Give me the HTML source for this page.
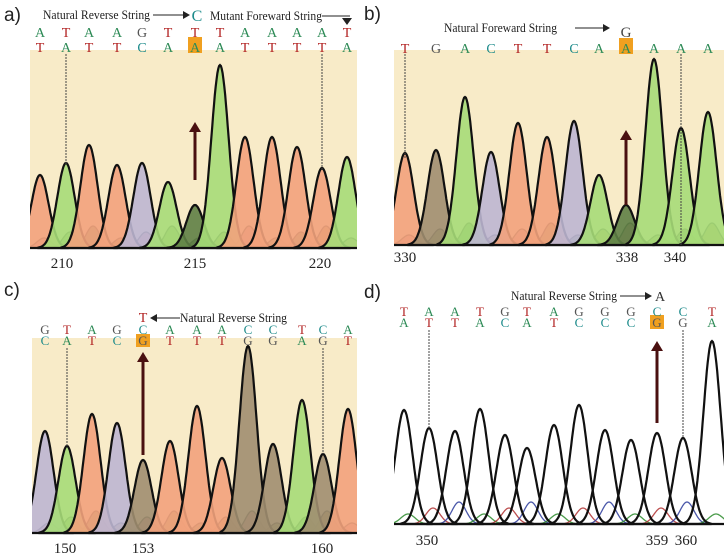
<!DOCTYPE html>
<html><head><meta charset="utf-8">
<style>
html,body{margin:0;padding:0;background:#fff;}
svg{display:block;font-family:"Liberation Serif",serif;}
</style></head>
<body>
<svg id="fig" width="724" height="556" viewBox="0 0 724 556" xmlns="http://www.w3.org/2000/svg"></svg>
<script>
// Panel a data
const aPos = [40,66,89,117,142,168,195,220,245,272,297,322,347];
const aHeights = [73,85,103,83,85,66,43,183,111,111,101,80,91];
const aColors = ["o","g","o","o","p","g","d","g","o","o","o","o","g"];
const aTop = ["A","T","A","A","G","T","T","T","A","A","A","A","T"];
const aBot = ["T","A","T","T","C","A","A","A","T","T","T","T","A"];
const aTicks = ["210","215","220"];
// Panel b data
const bPos = [405,436,465,491,518,547,574,599,626,654,681,708];
const bHeights = [92,95,148,93,122,108,124,70,40,186,117,133];
const bColors = ["o","b","g","p","o","o","p","g","d","g","g","g"];
const bBases = ["T","G","A","C","T","T","C","A","A","A","A","A"];
const bTicks = ["330","338","340"];
// Panel c data
const cPos = [45,67,92,117,143,170,197,222,248,273,302,323,348];
const cHeights = [102,87,119,110,73,92,127,75,187,89,133,79,124];
const cColors = ["p","g","o","p","b","o","o","o","b","b","g","b","o"];
const cTop = ["G","T","A","G","C","A","A","A","C","C","T","C","A"];
const cBot = ["C","A","T","C","G","T","T","T","G","G","A","G","T"];
const cTicks = ["150","153","160"];
// Panel d data
const dPos = [404,429,455,480,505,527,554,579,605,631,657,683,712];
const dHeights = [114,96,93,115,89,76,99,119,94,84,91,86,183];
const dColors = ["g","r","r","g","k","k","r","k","k","k","k","k","g"];
const dTop = ["T","A","A","T","G","T","A","G","G","G","C","C","T"];
const dBot = ["A","T","T","A","C","A","T","C","C","C","G","G","A"];
const dTicks = ["350","359","360"];

const NS="http://www.w3.org/2000/svg";
const svg=document.getElementById('fig');
const fills={o:"#f2a27c",g:"#a6dc78",p:"#bdb6d2",b:"#a08e70",d:"#5e7f45",r:"none",k:"none"};
const minorFills=["#c87a8a","#8a9a5a","#6a8a5a","#b08a50"];
const baseCol={A:"#2e8b57",T:"#b22222",G:"#555",C:"#1b8a8a"};
function el(tag,attrs,parent){const e=document.createElementNS(NS,tag);for(const k in attrs)e.setAttribute(k,attrs[k]);(parent||svg).appendChild(e);return e;}
function txt(x,y,s,size,fill,anchor,name,parent){const t=el('text',{x:x,y:y,'font-size':size,fill:fill,'text-anchor':anchor||'middle'},parent);t.textContent=s;return t;}
function peakPath(cx,h,base,sig){let d=`M${cx-sig*3.2},${base}`;for(let i=-32;i<=32;i++){const x=cx+i*sig/10;const y=base-h*Math.exp(-0.5*Math.pow(i/10,2));d+=` L${x.toFixed(1)},${y.toFixed(1)}`;}return d+` L${cx+sig*3.2},${base} Z`;}
function panel(id,x0,x1,yTop,base,pos,hts,cols,bg,fillOn){
  const g=el('g',{});
  if(bg){const r=el('rect',{x:x0,y:yTop,width:x1-x0,height:base-yTop,fill:bg},g);}
  const cp=el('clipPath',{id:'clip-'+id},g);el('rect',{x:x0,y:yTop-200,width:x1-x0,height:base-yTop+210},cp);
  const inner=el('g',{'clip-path':`url(#clip-${id})`},g);
  for(let i=0;i<pos.length;i++){
    const sp=el('path',{d:peakPath(pos[i]+4,10+(i%3)*6,base,7),fill:fillOn?minorFills[i%4]:"none",stroke:fillOn?"#222":["#2a8a2a","#b03030","#2a3a9a"][i%3],"stroke-width":1.3,opacity:0.85},inner);
    
  }
  for(let i=0;i<pos.length;i++){
    const f=fillOn?fills[cols[i]]:"none";
    const p=el('path',{d:peakPath(pos[i],hts[i],base,8.6),fill:f,stroke:"#111","stroke-width":2.2,"fill-opacity":0.9},inner);
    
  }
  const bl=el('line',{x1:x0,x2:x1,y1:base,y2:base,stroke:"#111","stroke-width":2},g);
  
  return g;
}
function bases(pos,arr,y,name,size){arr.forEach((b,i)=>{txt(pos[i],y,b,size,baseCol[b],'middle',name);});}
function hl(x,y,h){const r=el('rect',{x:x-7,y:y-h,width:14,height:h+2,fill:"#f0a020"});}
function arrow(x,y1,y2){const l=el('line',{x1:x,x2:x,y1:y1,y2:y2+8,stroke:"#4a1010","stroke-width":3});
  const h=el('path',{d:`M${x-6},${y2+10} L${x},${y2} L${x+6},${y2+10} Z`,fill:"#4a1010"});}
function vline(x,y1,y2){const l=el('line',{x1:x,x2:x,y1:y1,y2:y2,stroke:"#444","stroke-width":1,"stroke-dasharray":"2,1"});}
function ann(x,y,s,w,name){const t=txt(x,y,s,12.5,"#222","start",name);t.setAttribute('textLength',w);t.setAttribute('lengthAdjust','spacingAndGlyphs');return t;}

// Panel a
panel('panel-a',30,357,50,248,aPos,aHeights,aColors,"#f8ebc8",true);
hl(aPos[6],51,14);
bases(aPos,aTop,37,'base-call-top',14);bases(aPos,aBot,52,'base-call-bottom',14);
vline(aPos[1],54,165);vline(aPos[11],54,170);
arrow(195,180,122);
txt(4,21,"a)",19,"#222","start","panel-label-a").setAttribute('font-family',"Liberation Sans");
ann(43,19,"Natural Reverse String",107,"annotation-natural-reverse");
el('line',{x1:153,x2:183,y1:15,y2:15,stroke:"#222"});el('path',{d:"M183,11 L190,15 L183,19Z",fill:"#222"});
txt(197,21,"C",16,"#1b8a8a","middle","mutant-base-a");
ann(210,20,"Mutant Foreward String",112,"annotation-mutant-forward");
el('line',{x1:322,x2:350,y1:16,y2:16,stroke:"#222"});el('path',{d:"M342,18 L347,25 L352,18Z",fill:"#222"});
[[62,aTicks[0]],[195,aTicks[1]],[320,aTicks[2]]].forEach(t=>txt(t[0],268,t[1],15,"#222","middle","x-tick-label"));

// Panel b
panel('panel-b',394,724,50,245,bPos,bHeights,bColors,"#f8ebc8",true);
hl(bPos[8],52,14);
bases(bPos,bBases,53,'base-call',14);
vline(bPos[0],54,158);vline(bPos[10],54,245);
arrow(626,205,130);
txt(364,20,"b)",19,"#222","start","panel-label-b").setAttribute('font-family',"Liberation Sans");
ann(444,32,"Natural Foreward String",113,"annotation-natural-forward");
el('line',{x1:575,x2:603,y1:28,y2:28,stroke:"#222"});el('path',{d:"M603,24 L610,28 L603,32Z",fill:"#222"});
txt(626,37,"G",15,"#444","middle","mutant-base-b");
[[405,bTicks[0]],[627,bTicks[1]],[675,bTicks[2]]].forEach(t=>txt(t[0],262,t[1],15,"#222","middle","x-tick-label"));

// Panel c
panel('panel-c',32,357,338,533,cPos,cHeights,cColors,"#f8ebc8",true);
hl(cPos[4],345,11);
bases(cPos,cTop,334,'base-call-top',13);bases(cPos,cBot,345,'base-call-bottom',13);
vline(cPos[1],348,446);vline(cPos[11],348,454);
arrow(143,455,352);
txt(4,296,"c)",19,"#222","start","panel-label-c").setAttribute('font-family',"Liberation Sans");
txt(143,322,"T",14,"#b22222","middle","mutant-base-c");
el('path',{d:"M150,318 L157,314 L157,322Z",fill:"#222"});el('line',{x1:157,x2:180,y1:318,y2:318,stroke:"#222"});
ann(180,322,"Natural Reverse String",107,"annotation-natural-reverse-c");
[[65,cTicks[0]],[143,cTicks[1]],[322,cTicks[2]]].forEach(t=>txt(t[0],553,t[1],15,"#222","middle","x-tick-label"));

// Panel d
panel('panel-d',394,724,300,524,dPos,dHeights,dColors,null,false);
hl(dPos[10],327,12);
bases(dPos,dTop,316,'base-call-top',13);bases(dPos,dBot,327,'base-call-bottom',13);
vline(dPos[1],330,428);vline(dPos[11],330,438);
arrow(657,423,341);
txt(364,298,"d)",19,"#222","start","panel-label-d").setAttribute('font-family',"Liberation Sans");
ann(511,300,"Natural Reverse String",106,"annotation-natural-reverse-d");
el('line',{x1:620,x2:645,y1:296,y2:296,stroke:"#222"});el('path',{d:"M645,292 L652,296 L645,300Z",fill:"#222"});
txt(660,301,"A",14,"#333","middle","mutant-base-d");
[[427,dTicks[0]],[657,dTicks[1]],[686,dTicks[2]]].forEach(t=>txt(t[0],545,t[1],15,"#222","middle","x-tick-label"));
</script>
</body></html>
